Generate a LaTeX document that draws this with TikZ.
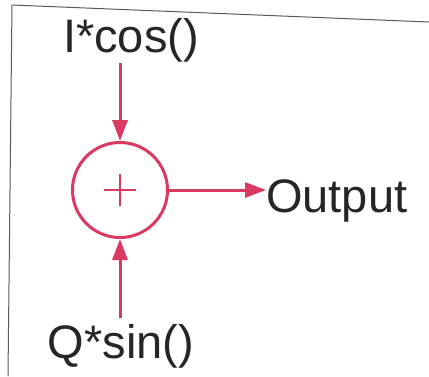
\documentclass[tikz,border=0pt]{standalone}
\usepackage{fontspec}
\setmainfont{Liberation Sans}
\usetikzlibrary{arrows.meta}
\definecolor{pinkred}{RGB}{218,58,98}
\definecolor{framegray}{RGB}{90,90,90}
\tikzset{
  lbl/.style={inner sep=0pt, text=black!85, font=\fontsize{47}{50}\selectfont},
  arr/.style={draw=pinkred, line width=3pt, -{Triangle[length=21pt,width=15pt]}},
  sumnode/.style={circle, draw=pinkred, line width=3pt, minimum size=95pt, inner sep=0pt},
  plusline/.style={draw=pinkred, line width=2.5pt},
  framel/.style={draw=framegray, line width=1pt}
}
\begin{document}
\begin{tikzpicture}[x=1pt,y=-1pt]
\useasboundingbox (0,0) rectangle (429,376);
\fill[white] (0,0) rectangle (429,376);
% frame
\draw[framel] (8,376) -- (12,5) -- (429,22);
% nodes
\node[sumnode] (sum) at (120,190) {};
\node[lbl, anchor=base] (I) at (131,52) {I*cos()};
\node[lbl, anchor=base] (Q) at (121,358) {Q*sin()};
\node[lbl, anchor=base west] (out) at (266,212) {Output};
\coordinate (itop) at (120,63);
\coordinate (qtop) at (120,318);
% plus
\draw[plusline] ([xshift=-16pt]sum.center) -- ([xshift=16pt]sum.center);
\draw[plusline] ([yshift=-16pt]sum.center) -- ([yshift=16pt]sum.center);
% connectors
\draw[arr] (itop) -- (sum.north);
\draw[arr] (qtop) -- (sum.south);
\draw[arr] (sum.east) -- (sum.east -| out.west);
\end{tikzpicture}
\end{document}
